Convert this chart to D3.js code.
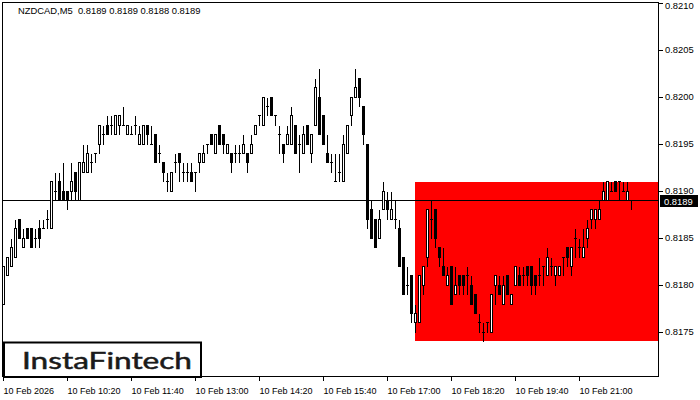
<!DOCTYPE html>
<html>
<head>
<meta charset="utf-8">
<script src="https://cdn.jsdelivr.net/npm/d3@7/dist/d3.min.js"></script>
<style>
html,body{margin:0;padding:0;background:#fff;}
svg{display:block;}
</style>
</head>
<body>
<svg id="chart" width="700" height="400"></svg>
<script>
// ---- DATA ----
const symbolTitle = "NZDCAD,M5  0.8189 0.8189 0.8188 0.8189";
const openP = [
.8178,.8181,.8182,.8183,.8187,.8184,.8186,.8186,.8185,.8186,.8186,.8187,.8186,.8190,.8191,.8190,.8190,.8190,.8192,.8189,
.8192,.8192,.8193,.8194,.8195,.8196,.8197,.8197,.8196,.8197,.8197,.8196,.8196,.8197,.8195,.8195,.8197,.8195,.8196,.8194,
.8193,.8191,.8190,.8193,.8194,.8192,.8192,.8192,.8192,.8193,.8193,.8195,.8196,.8194,.8197,.8196,.8194,.8194,.8194,.8194,
.8194,.8194,.8194,.8196,.8198,.8197,.8199,.8200,.8198,.8196,.8195,.8195,.8195,.8197,.8195,.8194,.8197,.8194,.8197,.8200,
.8198,.8194,.8193,.8191,.8192,.8191,.8194,.8198,.8200,.8202,.8199,.8195,.8188,.8187,.8185,.8188,.8189,.8187,.8187,.8186,
.8183,.8180,.8181,.8176,.8176,.8180,.8183,.8187,.8188,.8184,.8182,.8180,.8182,.8179,.8181,.8181,.8181,.8180,.8179,.8176,
.8175,.8176,.8175,.8180,.8180,.8178,.8181,.8178,.8180,.8181,.8181,.8182,.8182,.8181,.8181,.8182,.8181,.8182,.8181,.8181,
.8183,.8184,.8182,.8185,.8184,.8183,.8185,.8187,.8187,.8187,.8189,.8189,.8190,.8191,.8191,.8190,.8189,.8189];
const highP = [
.8182,.8183,.8185,.8187,.8187,.8186,.8186,.8186,.8186,.8187,.8187,.8188,.8191,.8192,.8192,.8193,.8190,.8193,.8192,.8193,
.8195,.8195,.8194,.8194,.8197,.8197,.8198,.8198,.8198,.8198,.8199,.8197,.8197,.8198,.8197,.8197,.8197,.8197,.8196,.8195,
.8193,.8192,.8192,.8194,.8194,.8193,.8193,.8193,.8192,.8194,.8195,.8195,.8196,.8196,.8197,.8196,.8195,.8194,.8195,.8195,
.8196,.8194,.8196,.8197,.8198,.8200,.8200,.8200,.8198,.8197,.8195,.8197,.8199,.8197,.8196,.8197,.8197,.8196,.8202,.8203,
.8198,.8196,.8194,.8194,.8194,.8196,.8197,.8200,.8203,.8202,.8199,.8195,.8189,.8187,.8188,.8191,.8190,.8190,.8189,.8187,
.8183,.8182,.8181,.8178,.8181,.8182,.8188,.8189,.8188,.8184,.8184,.8182,.8182,.8182,.8181,.8181,.8182,.8181,.8179,.8177,
.8176,.8176,.8179,.8181,.8181,.8181,.8181,.8179,.8182,.8182,.8182,.8182,.8182,.8181,.8183,.8182,.8184,.8183,.8182,.8182,
.8183,.8184,.8184,.8186,.8185,.8186,.8187,.8188,.8188,.8189,.8191,.8191,.8191,.8191,.8191,.8191,.8191,.8189];
const lowP = [
.8178,.8181,.8182,.8183,.8185,.8184,.8185,.8184,.8184,.8184,.8186,.8186,.8186,.8189,.8189,.8189,.8188,.8189,.8189,.8189,
.8192,.8192,.8192,.8193,.8194,.8195,.8196,.8196,.8196,.8196,.8197,.8196,.8196,.8196,.8195,.8195,.8195,.8195,.8193,.8193,
.8191,.8190,.8190,.8192,.8191,.8191,.8191,.8191,.8190,.8192,.8193,.8194,.8195,.8194,.8195,.8194,.8194,.8192,.8193,.8193,
.8194,.8192,.8194,.8196,.8197,.8197,.8198,.8198,.8197,.8194,.8193,.8195,.8195,.8194,.8192,.8194,.8195,.8193,.8197,.8196,
.8195,.8193,.8192,.8191,.8191,.8191,.8194,.8197,.8200,.8199,.8195,.8186,.8185,.8184,.8185,.8188,.8187,.8187,.8186,.8182,
.8179,.8179,.8176,.8175,.8176,.8179,.8182,.8185,.8184,.8182,.8181,.8180,.8178,.8179,.8179,.8179,.8179,.8178,.8177,.8175,
.8174,.8175,.8175,.8178,.8179,.8178,.8179,.8178,.8180,.8180,.8180,.8180,.8179,.8179,.8180,.8180,.8181,.8181,.8180,.8181,
.8181,.8182,.8181,.8183,.8183,.8183,.8184,.8186,.8186,.8187,.8189,.8189,.8190,.8190,.8189,.8190,.8189,.8188];
const closeP = [
.8182,.8183,.8184,.8186,.8185,.8185,.8185,.8184,.8185,.8185,.8186,.8187,.8191,.8190,.8189,.8189,.8189,.8191,.8190,.8193,
.8193,.8194,.8193,.8194,.8197,.8196,.8196,.8197,.8198,.8198,.8197,.8197,.8196,.8197,.8196,.8197,.8196,.8195,.8193,.8194,
.8192,.8191,.8192,.8193,.8193,.8192,.8192,.8191,.8192,.8194,.8194,.8195,.8195,.8196,.8195,.8195,.8195,.8193,.8194,.8194,
.8195,.8193,.8195,.8197,.8198,.8200,.8199,.8198,.8198,.8196,.8194,.8196,.8198,.8194,.8195,.8196,.8195,.8196,.8201,.8196,
.8195,.8193,.8193,.8191,.8192,.8195,.8197,.8200,.8201,.8200,.8196,.8187,.8185,.8184,.8187,.8190,.8188,.8188,.8187,.8182,
.8179,.8180,.8177,.8177,.8181,.8182,.8188,.8187,.8185,.8183,.8181,.8181,.8178,.8180,.8180,.8180,.8181,.8178,.8177,.8176,
.8175,.8176,.8179,.8181,.8179,.8180,.8179,.8179,.8182,.8180,.8181,.8181,.8180,.8180,.8181,.8182,.8183,.8182,.8182,.8182,
.8183,.8183,.8184,.8185,.8184,.8184,.8186,.8188,.8188,.8188,.8190,.8191,.8190,.8190,.8191,.8190,.8190,.8189];

const priceTicks = [0.8175, 0.8180, 0.8185, 0.8190, 0.8195, 0.8200, 0.8205, 0.8210];
const timeTickIndex = [0, 16, 32, 48, 64, 80, 96, 112, 128, 144];
const timeTickLabels = ["10 Feb 2026","10 Feb 10:20","10 Feb 11:40","10 Feb 13:00","10 Feb 14:20",
                        "10 Feb 15:40","10 Feb 17:00","10 Feb 18:20","10 Feb 19:40","10 Feb 21:00"];
const currentPrice = 0.8189;
const zoneStartIndex = 103;
const zoneTop = 0.8191;
const zoneBottom = 0.81741;
const logoText = "InstaFintech";

// ---- LAYOUT ----
const svg = d3.select("#chart");
const plotL = 2, plotR = 658, plotT = 2, plotB = 376;
const x = d3.scaleLinear().domain([0, 1]).range([3.3, 7.3]);
const y = d3.scaleLinear().domain([0.8175, 0.8210]).range([332.3, 3]);
const snap = v => Math.floor(v) + 0.5;
const FONT = "'Liberation Sans', Arial, sans-serif";

svg.append("defs").append("clipPath").attr("id","plotclip")
  .append("rect").attr("x", plotL+0.5).attr("y", plotT+0.5)
  .attr("width", plotR-plotL).attr("height", plotB-plotT);

const plot = svg.append("g").attr("clip-path","url(#plotclip)");

// red pattern zone
plot.append("rect")
  .attr("x", Math.round(x(zoneStartIndex)))
  .attr("y", Math.round(y(zoneTop)))
  .attr("width", plotR + 1 - Math.round(x(zoneStartIndex)))
  .attr("height", Math.round(y(zoneBottom)) - Math.round(y(zoneTop)))
  .attr("fill", "#ff0000");

// current price line
plot.append("line")
  .attr("x1", plotL).attr("x2", plotR + 1)
  .attr("y1", snap(y(currentPrice))).attr("y2", snap(y(currentPrice)))
  .attr("stroke", "#000").attr("stroke-width", 1);

// candles
const candles = openP.map((o, i) => ({i, o, h: highP[i], l: lowP[i], c: closeP[i]}));
const cg = plot.append("g").attr("shape-rendering","crispEdges");
candles.forEach(d => {
  const cx = snap(x(d.i));
  const g = cg.append("g");
  g.append("line")
    .attr("x1", cx).attr("x2", cx)
    .attr("y1", snap(y(d.h))).attr("y2", snap(y(d.l)) + 0.5)
    .attr("stroke", "#000").attr("stroke-width", 1);
  const top = snap(y(Math.max(d.o, d.c)));
  const bot = snap(y(Math.min(d.o, d.c)));
  if (bot - top < 0.5) {
    g.append("line")
      .attr("x1", cx - 1.5).attr("x2", cx + 1.5)
      .attr("y1", top).attr("y2", top)
      .attr("stroke", "#000").attr("stroke-width", 1);
  } else {
    g.append("rect")
      .attr("x", cx - 1).attr("y", top)
      .attr("width", 2).attr("height", bot - top)
      .attr("fill", d.c >= d.o ? "#fff" : "#000")
      .attr("stroke", "#000").attr("stroke-width", 1);
  }
});

// frame
svg.append("rect")
  .attr("x", plotL + 0.5).attr("y", plotT + 0.5)
  .attr("width", plotR - plotL).attr("height", plotB - plotT)
  .attr("fill", "none").attr("stroke", "#000").attr("stroke-width", 1)
  .attr("shape-rendering","crispEdges");

// y axis ticks + labels
const yAx = svg.append("g");
priceTicks.forEach(p => {
  const yy = snap(y(p));
  yAx.append("line").attr("x1", plotR + 1).attr("x2", plotR + 5)
    .attr("y1", yy).attr("y2", yy).attr("stroke", "#000").attr("shape-rendering","crispEdges");
  yAx.append("text").attr("x", 665).attr("y", Math.max(yy - 0.8, 5.5))
    .attr("dominant-baseline", "central")
    .attr("font-family", FONT).attr("font-size", "9.4px").attr("fill", "#000")
    .text(p.toFixed(4));
});

// current price tag
const cy = snap(y(currentPrice));
svg.append("rect").attr("x", 660).attr("y", cy - 5.5).attr("width", 38).attr("height", 12).attr("fill", "#000");
svg.append("text").attr("x", 664).attr("y", cy + 1).attr("dominant-baseline","central")
  .attr("font-family", FONT).attr("font-size", "9.4px").attr("fill", "#fff")
  .text(currentPrice.toFixed(4));

// x axis ticks + labels
const xAx = svg.append("g");
timeTickIndex.forEach((idx, k) => {
  const xx = snap(x(idx));
  xAx.append("line").attr("x1", xx).attr("x2", xx).attr("y1", plotB + 1).attr("y2", plotB + 5)
    .attr("stroke", "#000").attr("shape-rendering","crispEdges");
  xAx.append("text").attr("x", xx).attr("y", 394)
    .attr("font-family", FONT).attr("font-size", "9px").attr("fill", "#000")
    .text(timeTickLabels[k]);
});

// title
svg.append("text").attr("x", 18).attr("y", 14)
  .attr("font-family", FONT).attr("font-size", "9.4px").attr("fill", "#000")
  .attr("xml:space","preserve").style("white-space","pre")
  .text(symbolTitle);

// logo
svg.append("rect").attr("x", 4).attr("y", 342.5).attr("width", 197).attr("height", 34.5)
  .attr("fill", "#fff").attr("stroke", "#000").attr("stroke-width", 2);
svg.append("text").attr("x", 22).attr("y", 368.5)
  .attr("font-family", "Lato, 'Noto Sans', sans-serif").attr("font-size", "23px")
  .attr("font-weight", "normal").attr("fill", "#1a1a1a")
  .attr("stroke", "#1a1a1a").attr("stroke-width", 0.5)
  .attr("textLength", 170).attr("lengthAdjust", "spacingAndGlyphs")
  .text(logoText);
</script>
</body>
</html>
